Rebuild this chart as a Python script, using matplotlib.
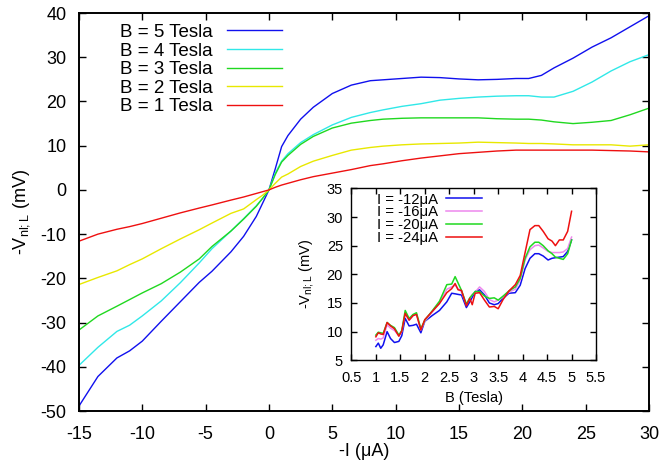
import matplotlib
matplotlib.use("Agg")
import matplotlib.pyplot as plt

plt.rcParams['font.family'] = ['Liberation Sans', 'DejaVu Sans']
plt.rcParams['mathtext.fontset'] = 'custom'
plt.rcParams['mathtext.rm'] = 'Liberation Sans'
plt.rcParams['mathtext.it'] = 'Liberation Sans'
plt.rcParams['axes.unicode_minus'] = False

# --- main plot data: -V_nl;L (mV) vs -I (uA) ---
current = [-15, -13.5, -12, -11, -10, -8.5, -7, -5.5, -4.5, -3, -2, -1, -0.5, 0,
           0.5, 1, 1.5, 2.5, 3.5, 5, 6.5, 8, 9, 10.5, 12, 13.5, 15, 16.5, 18,
           19.5, 20.5, 21.5, 22.5, 24, 25.5, 27, 28.5, 30]

v_b5 = [-48.9, -42.2, -38.0, -36.4, -34.2, -29.7, -25.3, -20.9, -18.4, -14.0, -10.5,
        -6.0, -3.0, 0, 4.8, 9.8, 12.3, 16.0, 18.7, 21.8, 23.7, 24.7, 24.9, 25.2,
        25.5, 25.4, 25.1, 24.9, 25.0, 25.2, 25.2, 25.9, 27.6, 29.8, 32.3, 34.4,
        36.9, 39.4]
v_b4 = [-39.7, -35.6, -32.0, -30.6, -28.5, -25.1, -21.0, -16.5, -13.3, -9.3, -6.5,
        -3.6, -1.9, 0, 3.8, 6.5, 8.2, 10.7, 12.5, 14.7, 16.4, 17.5, 18.1, 18.9,
        19.5, 20.3, 20.7, 21.0, 21.2, 21.3, 21.3, 21.0, 21.0, 22.3, 24.4, 26.9,
        29.0, 30.6]
v_b3 = [-31.7, -28.5, -26.3, -24.8, -23.3, -21.2, -18.6, -15.6, -12.8, -9.3, -6.6,
        -3.7, -1.9, 0, 3.5, 6.3, 7.8, 10.3, 12.1, 14.0, 15.1, 15.7, 16.0, 16.2,
        16.3, 16.3, 16.3, 16.3, 16.1, 16.0, 16.0, 15.8, 15.4, 15.0, 15.3, 15.7,
        17.0, 18.5]
v_b2 = [-21.4, -19.8, -18.3, -16.9, -15.6, -13.3, -11.1, -9.0, -7.5, -5.3, -4.3,
        -2.2, -1.2, 0, 1.5, 2.9, 3.6, 5.3, 6.5, 7.8, 9.0, 9.6, 9.9, 10.2, 10.4,
        10.5, 10.6, 10.8, 10.7, 10.6, 10.5, 10.5, 10.4, 10.2, 10.2, 10.2, 9.9, 10.2]
v_b1 = [-11.6, -10.0, -8.9, -8.3, -7.6, -6.4, -5.2, -4.1, -3.4, -2.3, -1.6, -0.8,
        -0.4, 0, 0.6, 1.1, 1.5, 2.3, 3.0, 3.8, 4.6, 5.5, 5.9, 6.6, 7.2, 7.7, 8.2,
        8.5, 8.8, 9.0, 9.0, 9.0, 9.0, 9.0, 9.0, 8.9, 8.8, 8.6]

main_labels = ['B = 5 Tesla', 'B = 4 Tesla', 'B = 3 Tesla', 'B = 2 Tesla', 'B = 1 Tesla']
main_colors = ['#1010ee', '#30e8e8', '#20d820', '#e8e800', '#ee1010']

# --- inset data: -V_nl;L (mV) vs B (Tesla) ---
field = [1.0, 1.05, 1.1, 1.15, 1.23, 1.3, 1.38, 1.47, 1.53, 1.6, 1.68, 1.76, 1.83,
         1.92, 2.0, 2.15, 2.3, 2.45, 2.55, 2.62, 2.68, 2.75, 2.85, 2.92, 2.97, 3.03,
         3.12, 3.22, 3.32, 3.42, 3.5, 3.6, 3.72, 3.85, 3.95, 4.05, 4.15, 4.25, 4.33,
         4.42, 4.52, 4.6, 4.67, 4.75, 4.83, 4.92, 5.0]

v_i12 = [7.4, 8.0, 7.1, 7.7, 10.0, 8.8, 8.1, 8.3, 9.3, 12.3, 11.0, 11.1, 11.3, 9.8,
         11.8, 12.8, 13.7, 15.2, 16.7, 16.6, 16.5, 16.4, 14.2, 15.2, 16.0, 17.0,
         17.3, 16.4, 15.0, 14.7, 14.9, 15.8, 16.7, 16.8, 18.1, 21.0, 22.8, 23.6,
         23.6, 23.2, 22.5, 22.8, 22.9, 23.0, 23.1, 24.0, 26.0]
v_i16 = [8.5, 8.8, 8.7, 8.9, 11.2, 10.6, 10.2, 9.3, 10.0, 13.2, 12.0, 12.8, 13.1,
         10.3, 11.8, 13.4, 15.0, 17.4, 17.8, 18.1, 17.5, 16.9, 14.7, 15.8, 16.5,
         16.9, 17.8, 17.0, 15.6, 15.2, 15.5, 16.0, 16.9, 17.4, 19.0, 22.5, 24.3,
         25.0, 25.1, 24.6, 24.0, 23.8, 23.8, 23.8, 23.9, 24.5, 26.5]
v_i20 = [9.4, 9.9, 9.8, 9.7, 11.6, 11.1, 10.7, 9.4, 10.2, 13.7, 12.3, 13.0, 13.3,
         10.5, 12.0, 13.6, 15.3, 18.2, 18.3, 19.6, 18.5, 17.2, 14.8, 15.9, 16.4,
         17.0, 17.0, 16.2, 15.8, 15.9, 15.5, 16.2, 17.1, 17.8, 19.3, 22.8, 24.8,
         25.6, 25.6, 25.0, 24.1, 23.6, 23.0, 22.8, 22.6, 23.6, 26.0]
v_i24 = [9.1, 9.8, 9.6, 9.5, 11.6, 11.0, 10.5, 9.2, 10.1, 13.2, 12.0, 12.8, 13.0,
         10.3, 12.1, 13.5, 14.9, 16.8, 17.5, 18.4, 17.3, 17.2, 14.5, 15.8, 14.7,
         16.7, 16.8, 15.5, 14.3, 14.4, 14.0, 15.6, 17.1, 18.2, 19.8, 23.8, 27.8,
         28.5, 28.5, 27.5, 26.2, 25.8, 25.0, 26.0, 26.0, 27.5, 31.0]

inset_labels = ['I = -12\u03bcA', 'I = -16\u03bcA', 'I = -20\u03bcA', 'I = -24\u03bcA']
inset_colors = ['#1010ee', '#ee88ee', '#20d820', '#ee1010']


def style_axes(ax, size, lw):
    ax.tick_params(direction='in', top=True, right=True, length=5, width=1,
                   labelsize=size)
    for sp in ax.spines.values():
        sp.set_linewidth(lw)


fig = plt.figure(figsize=(6.63, 4.66), dpi=100)

# main axes
ax = fig.add_axes([0.119, 0.118, 0.860, 0.854])
for ys, lab, col in zip([v_b5, v_b4, v_b3, v_b2, v_b1], main_labels, main_colors):
    ax.plot(current, ys, color=col, lw=1.0, label=lab)
ax.set_xlim(-15, 30)
ax.set_ylim(-50, 40)
ax.set_xticks(range(-15, 31, 5))
ax.set_yticks(range(-50, 41, 10))
style_axes(ax, 13, 1.4)
ax.tick_params(axis='x', pad=11)
ax.tick_params(axis='y', pad=9)
ax.set_xlabel('-I (\u03bcA)', fontsize=13, labelpad=0)
ax.set_ylabel('-V$_{\\mathrm{nl;L}}$ (mV)', fontsize=13, labelpad=6)
ax.legend(loc='upper left', bbox_to_anchor=(0.072, 0.973), frameon=False,
          markerfirst=False, fontsize=13.5, handlelength=2.95, handletextpad=0.75,
          labelspacing=0.08, borderpad=0, borderaxespad=0)

# inset axes
ins = fig.add_axes([0.530, 0.2268, 0.369, 0.369])
for ys, lab, col in zip([v_i12, v_i16, v_i20, v_i24], inset_labels, inset_colors):
    ins.plot(field, ys, color=col, lw=1.1, label=lab)
ins.set_xlim(0.5, 5.5)
ins.set_ylim(5, 35)
ins.set_xticks([0.5, 1, 1.5, 2, 2.5, 3, 3.5, 4, 4.5, 5, 5.5])
ins.set_xticklabels(['0.5', '1', '1.5', '2', '2.5', '3', '3.5', '4', '4.5', '5', '5.5'])
ins.set_yticks(range(5, 36, 5))
style_axes(ins, 10.5, 1.0)
ins.tick_params(length=4)
ins.tick_params(axis='x', pad=8)
ins.tick_params(axis='y', pad=6)
ins.set_xlabel('B (Tesla)', fontsize=10.5, labelpad=4)
ins.set_ylabel('-V$_{\\mathrm{nl;L}}$ (mV)', fontsize=10.5, labelpad=8)
ins.legend(loc='upper left', bbox_to_anchor=(0.104, 0.975), frameon=False,
           markerfirst=False, fontsize=10.7, handlelength=2.4, handletextpad=0.55,
           labelspacing=-0.08, borderpad=0, borderaxespad=0)

fig.savefig('out.png', dpi=100)
